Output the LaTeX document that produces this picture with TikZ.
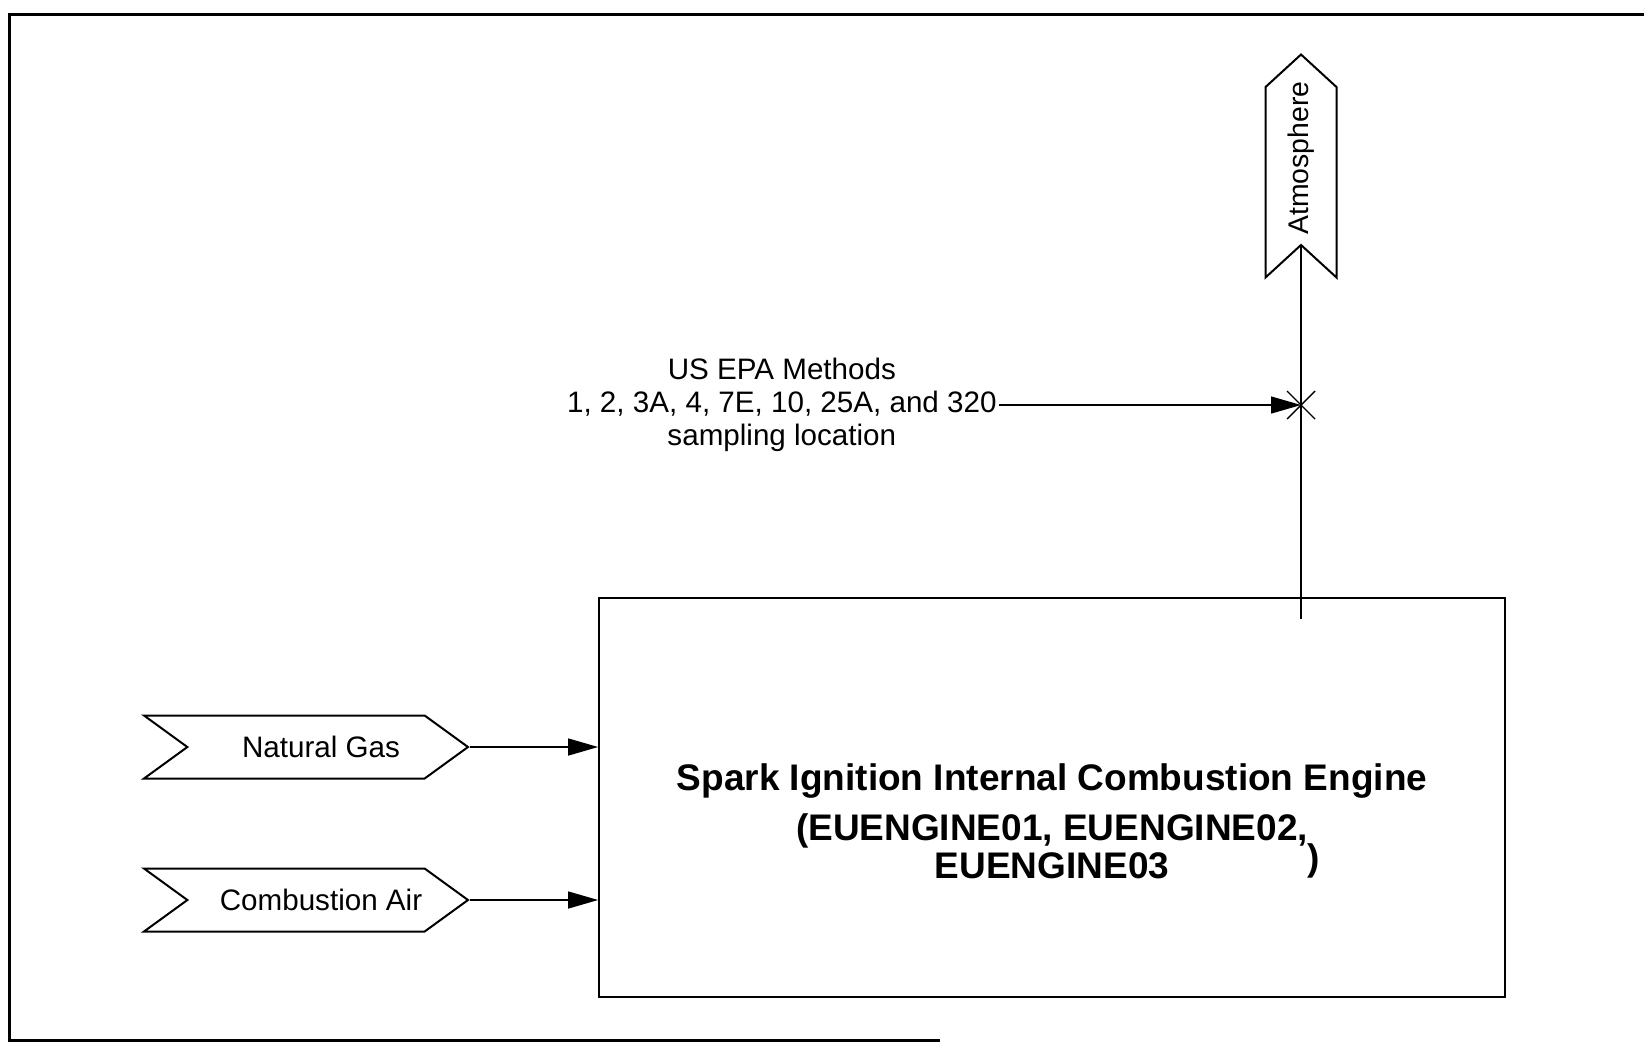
\documentclass[tikz,border=0pt]{standalone}
\usepackage{fontspec}
\setmainfont{Liberation Sans}
\usetikzlibrary{shapes.symbols,arrows.meta,positioning}
\begin{document}
\begin{tikzpicture}[x=0.5pt, y=-0.5pt,
flow/.style={draw, line width=1pt, signal, signal from=west, signal to=east,
  inner sep=0pt, font=\fontsize{14.8}{17}\selectfont},
feed/.style={-{Triangle[length=15pt, width=8.5pt]}, line width=0.7pt},
engbox/.style={draw, line width=0.9pt, minimum width=453pt, minimum height=199.5pt},
title/.style={align=center, font=\bfseries\fontsize{18.5}{19}\selectfont},
note/.style={align=center, inner sep=1pt, font=\fontsize{14.8}{16.5}\selectfont},
frame/.style={line width=1.5pt}]
\useasboundingbox (0,0) rectangle (1644,1041);
\draw[frame] (1644,14) -- (9,14) -- (9,1040) -- (940,1040);
\node[engbox] (eng) at (1052,797.5) {};
\node[title] (ttl) at ([yshift=-12pt]eng.center)
    {Spark Ignition Internal Combustion Engine\\[6pt]
     (EUENGINE01, EUENGINE02,\\EUENGINE03};
\node[title, inner sep=0pt] (paren) at (1314,861) {)};
\node[flow, signal pointer angle=72, minimum width=162pt, minimum height=31.5pt]
    (gas) at (306,747) {\hspace*{15pt}Natural Gas};
\node[flow, signal pointer angle=72, minimum width=162pt, minimum height=31.5pt]
    (air) at (306,900) {\hspace*{15pt}Combustion Air};
\node[flow, rotate=90, signal pointer angle=95, minimum width=111.5pt, minimum height=35.5pt,
    font=\fontsize{14.2}{16}\selectfont] (atm) at (1301,166)
    {\hspace*{4pt}Atmosphere\hspace*{-4pt}};
\coordinate (stk) at (1301,619);
\coordinate (samp) at (1301,405);
\node[note, anchor=east] (epa) at (999,405)
    {US EPA Methods\\1, 2, 3A, 4, 7E, 10, 25A, and 320\\sampling location};
\draw[feed] (gas.east) -- (gas.east -| eng.west);
\draw[feed] (air.east) -- (air.east -| eng.west);
\draw[line width=0.7pt] (stk) -- (atm.west);
\draw[feed] (epa.east) -- (samp);
\draw[line width=0.7pt] (samp) +(-14,-14) -- +(14,14) (samp) +(-14,14) -- +(14,-14);
\end{tikzpicture}
\end{document}
